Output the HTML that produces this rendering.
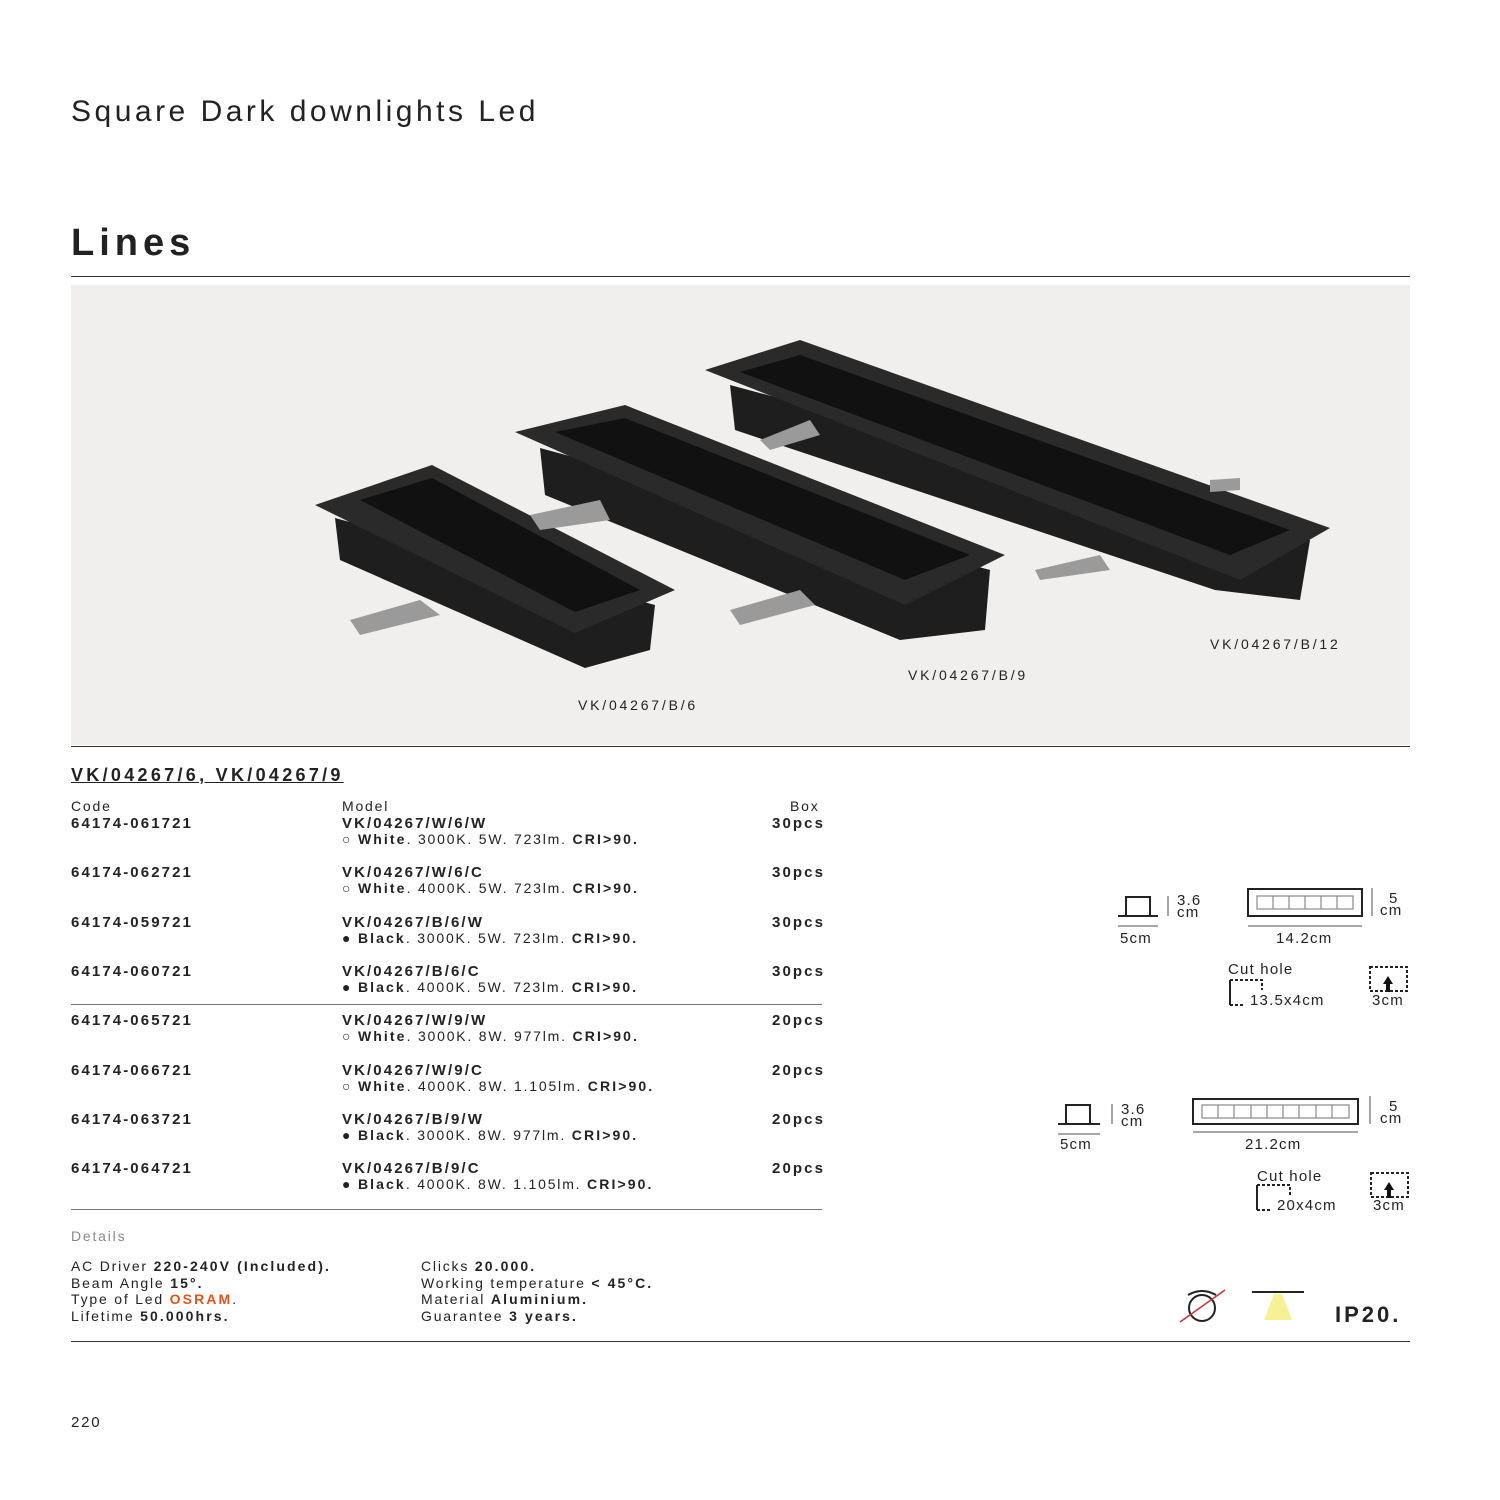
<!DOCTYPE html>
<html><head><meta charset="utf-8"><style>
body{margin:0;width:1500px;height:1500px;background:#fff;font-family:"Liberation Sans",sans-serif;color:#222;position:relative;overflow:hidden}
.a{position:absolute;white-space:nowrap}
.t{font-size:14px;letter-spacing:1.8px}
.b{font-weight:bold;font-size:15px;letter-spacing:2.1px}
.t b{letter-spacing:2.1px}
</style></head><body>
<div class="a" style="left:71px;top:95px;font-size:30px;letter-spacing:3.5px;color:#222">Square Dark downlights Led</div>
<div class="a" style="left:71px;top:222px;font-size:38px;font-weight:bold;letter-spacing:5px;color:#222">Lines</div>
<div class="a" style="left:71px;top:276px;width:1339px;height:1px;background:#333"></div>
<svg class="a" style="left:71px;top:285px" width="1339" height="460" viewBox="71 285 1339 460">
<rect x="71" y="285" width="1339" height="460" fill="#f0efed"/>
<polygon points="730,385 1310,540 1300,600 1215,590 735,430" fill="#1e1e1e"/>
<polygon points="705,370 800,340 1330,528 1240,580" fill="#2a2a2a"/>
<polygon points="740,372 800,355 1290,530 1230,555" fill="#111"/>
<polygon points="540,448 990,570 985,630 900,640 545,495" fill="#1e1e1e"/>
<polygon points="515,432 625,405 1005,555 905,605" fill="#2a2a2a"/>
<polygon points="555,432 625,418 970,555 905,580" fill="#111"/>
<polygon points="335,518 655,605 650,650 585,668 340,560" fill="#1e1e1e"/>
<polygon points="315,505 432,465 675,590 575,633" fill="#2a2a2a"/>
<polygon points="360,500 432,478 640,590 575,612" fill="#111"/>
<g fill="#9a9a9a"><polygon points="350,620 420,600 440,615 360,635"/><polygon points="530,515 600,500 610,520 540,530"/><polygon points="730,610 800,590 815,605 740,625"/><polygon points="1035,570 1100,555 1110,570 1040,580"/><polygon points="1210,480 1240,478 1240,490 1210,492"/><polygon points="760,440 810,420 820,435 770,450"/></g>
<g font-family="Liberation Sans" font-size="14" letter-spacing="2.8" fill="#222">
<text x="578" y="710">VK/04267/B/6</text>
<text x="908" y="680">VK/04267/B/9</text>
<text x="1210" y="649">VK/04267/B/12</text></g>
</svg>
<div class="a" style="left:71px;top:746px;width:1339px;height:1px;background:#333"></div>
<div class="a" style="left:71px;top:765px;font-size:18px;font-weight:bold;text-decoration:underline;letter-spacing:3.3px">VK/04267/6, VK/04267/9</div>
<div class="a t" style="left:71px;top:798px">Code</div>
<div class="a t" style="left:342px;top:798px">Model</div>
<div class="a t" style="left:790px;top:798px">Box</div>
<div id="rows"></div>
<div class="a" style="left:71px;top:1004px;width:751px;height:1px;background:#777"></div>
<div class="a" style="left:71px;top:1209px;width:751px;height:1px;background:#777"></div>
<script>
var r=[["64174-061721","VK/04267/W/6/W","○","White","3000K. 5W. 723lm.","30pcs"],
["64174-062721","VK/04267/W/6/C","○","White","4000K. 5W. 723lm.","30pcs"],
["64174-059721","VK/04267/B/6/W","●","Black","3000K. 5W. 723lm.","30pcs"],
["64174-060721","VK/04267/B/6/C","●","Black","4000K. 5W. 723lm.","30pcs"],
["64174-065721","VK/04267/W/9/W","○","White","3000K. 8W. 977lm.","20pcs"],
["64174-066721","VK/04267/W/9/C","○","White","4000K. 8W. 1.105lm.","20pcs"],
["64174-063721","VK/04267/B/9/W","●","Black","3000K. 8W. 977lm.","20pcs"],
["64174-064721","VK/04267/B/9/C","●","Black","4000K. 8W. 1.105lm.","20pcs"]];
var h="";r.forEach(function(x,i){var y=815+i*49.3;
h+='<div class="a b" style="left:71px;top:'+y+'px">'+x[0]+'</div><div class="a b" style="left:342px;top:'+y+'px">'+x[1]+'</div><div class="a t" style="left:342px;top:'+(y+16)+'px">'+x[2]+' <b>'+x[3]+'</b>. '+x[4]+' <b>CRI&gt;90.</b></div><div class="a b" style="left:772px;top:'+y+'px">'+x[5]+'</div>';});
document.getElementById("rows").innerHTML=h;
</script>
<div class="a t" style="left:71px;top:1228px;color:#888">Details</div>
<div class="a t" style="left:71px;top:1258px;line-height:16.5px">AC Driver <b>220-240V (Included).</b><br>Beam Angle <b>15°.</b><br>Type of Led <b style="color:#e0561b">OSRAM</b>.<br>Lifetime <b>50.000hrs.</b></div>
<div class="a t" style="left:421px;top:1258px;line-height:16.5px">Clicks <b>20.000.</b><br>Working temperature <b>&lt; 45°C.</b><br>Material <b>Aluminium.</b><br>Guarantee <b>3 years.</b></div>
<svg class="a" style="left:1040px;top:870px" width="400" height="480" font-family="Liberation Sans" font-size="14" fill="#222">
<g stroke="#222" fill="none" stroke-width="2">
<path d="M78 46H118M86 46V27H110V46"/><rect x="208" y="19" width="114" height="27"/>
<path d="M18 254H60M26 254V235H50V254"/><rect x="153" y="229" width="165" height="25"/>
</g>
<g stroke="#888" fill="none" stroke-width="1.5">
<path d="M128 26V46M78 56H118M332 18V46M208 56H322M72 234V254M18 264H60M153 262H318M330 226V254"/>
<g stroke-width="1.2"><rect x="217" y="26" width="96" height="13"/><path d="M233 26v13M249 26v13M265 26v13M281 26v13M297 26v13"/>
<rect x="162" y="235" width="147" height="13"/><path d="M178 235v13M194 235v13M211 235v13M227 235v13M243 235v13M259 235v13M276 235v13M292 235v13"/></g>
</g>
<g stroke="#222" fill="none" stroke-width="2" stroke-dasharray="3 2">
<path d="M190 135V110H222V120M190 110V135H204"/><rect x="330" y="97" width="37" height="24"/>
<path d="M217 340V315H250V325M217 315V340H230"/><rect x="331" y="303" width="37" height="24"/>
</g>
<path d="M348 106l-5 8h3v8h4v-8h3z M349 312l-5 8h3v8h4v-8h3z" fill="#111"/>
<g font-size="15" letter-spacing="1.2"><text x="137" y="35">3.6</text><text x="137" y="47">cm</text><text x="80" y="73">5cm</text><text x="349" y="33">5</text><text x="340" y="45">cm</text><text x="236" y="73">14.2cm</text>
<text x="188" y="104">Cut hole</text><text x="210" y="135">13.5x4cm</text><text x="332" y="135">3cm</text>
<text x="81" y="244">3.6</text><text x="81" y="256">cm</text><text x="20" y="279">5cm</text><text x="349" y="241">5</text><text x="340" y="253">cm</text><text x="205" y="279">21.2cm</text>
<text x="217" y="311">Cut hole</text><text x="237" y="340">20x4cm</text><text x="333" y="340">3cm</text></g>
<g stroke="#222" fill="none" stroke-width="2"><circle cx="162" cy="438" r="13"/><path d="M148 425q14-8 28 0"/><path d="M212 422h52"/></g>
<path d="M140 452l45-32" stroke="#c33" stroke-width="1.5"/>
<polygon points="234,424 242,424 252,450 224,450" fill="#f4ee7a" opacity=".8"/>
<text x="295" y="452" font-size="22" font-weight="bold" letter-spacing="3">IP20.</text>
</svg>
<div class="a" style="left:71px;top:1341px;width:1339px;height:1px;background:#333"></div>
<div class="a t" style="left:71px;top:1414px;font-size:15px">220</div>
</body></html>
